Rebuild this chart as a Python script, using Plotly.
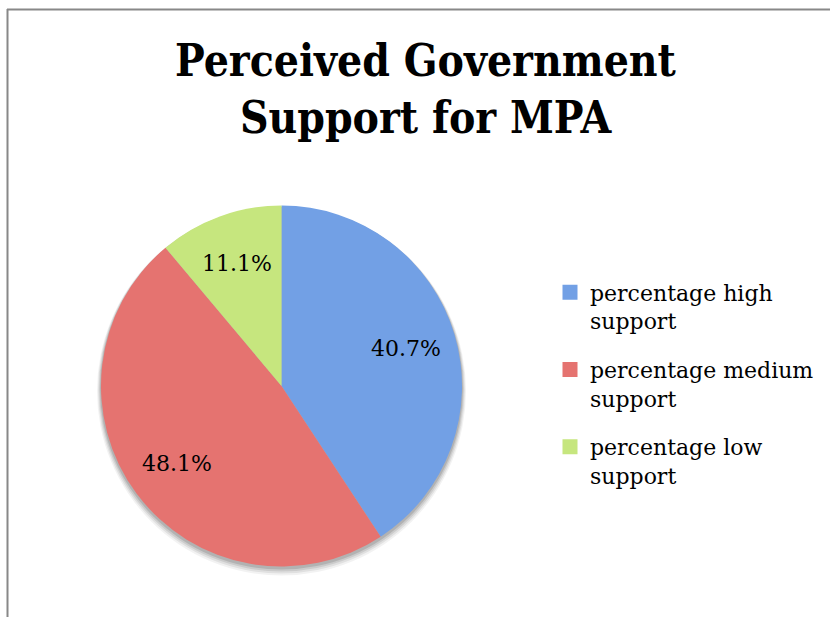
import math
import plotly.graph_objects as go

categories = ["percentage high<br>support", "percentage medium<br>support", "percentage low<br>support"]
counts = [11, 13, 3]
colors = ["#72A0E5", "#E57370", "#C6E67E"]
title_text = "Perceived Government<br>Support for MPA"

W, H = 830, 617
cx, cy, r = 281.5, 386, 180.5

fig = go.Figure()
fig.add_trace(go.Pie(
    labels=categories,
    values=counts,
    sort=False,
    direction="clockwise",
    rotation=0,
    marker=dict(colors=colors, line=dict(width=0)),
    textinfo="none",
    showlegend=False,
    domain=dict(x=[(cx - r) / W, (cx + r) / W], y=[1 - (cy + r) / H, 1 - (cy - r) / H]),
    hoverinfo="label+percent",
))

# legend entries (one group each so the gap between entries matches)
for i, (name, col) in enumerate(zip(categories, colors)):
    fig.add_trace(go.Scatter(
        x=[None], y=[None], mode="markers", name=name,
        marker=dict(symbol="square", size=15, color=col),
        legendgroup=f"g{i}", showlegend=True, hoverinfo="skip",
    ))

# percentage labels placed along each slice bisector
total = sum(counts)
annotations = []
cum = 0
for v in counts:
    mid = (cum + v / 2) / total * 2 * math.pi
    cum += v
    d = 0.72 * r
    x = cx + d * math.sin(mid)
    y = cy - d * math.cos(mid)
    annotations.append(dict(
        x=x / W, y=1 - y / H, xref="paper", yref="paper", showarrow=False,
        text=f"{v / total:.1%}", xanchor="center", yanchor="middle",
        font=dict(family="DejaVu Serif", size=22, color="black"),
    ))

shapes = []
# soft shadow under pie
for i, op in enumerate([0.05, 0.07, 0.09, 0.12]):
    rr = r + 4 - i
    off = 5 - i
    shapes.append(dict(type="circle", xref="paper", yref="paper",
                       x0=(cx - rr) / W, x1=(cx + rr) / W,
                       y0=1 - (cy + off + rr) / H, y1=1 - (cy + off - rr) / H,
                       fillcolor=f"rgba(0,0,0,{op})", line=dict(width=0), layer="below"))
# frame lines
shapes.append(dict(type="line", xref="paper", yref="paper", x0=7 / W, x1=1, y0=1 - 9.5 / H, y1=1 - 9.5 / H,
                   line=dict(color="#888888", width=2)))
shapes.append(dict(type="line", xref="paper", yref="paper", x0=7.5 / W, x1=7.5 / W, y0=0, y1=1 - 9 / H,
                   line=dict(color="#888888", width=2)))

fig.update_layout(
    width=W, height=H,
    margin=dict(l=0, r=0, t=0, b=0),
    paper_bgcolor="white",
    plot_bgcolor="white",
    xaxis=dict(visible=False),
    yaxis=dict(visible=False),
    title=dict(text=title_text, x=425.5 / W, xanchor="center", y=1 - 76 / H, yanchor="top",
               font=dict(family="DejaVu Serif Condensed, DejaVu Serif", size=44, color="black", weight="bold")),
    legend=dict(x=550 / W, y=1 - 271.5 / H, xanchor="left", yanchor="top",
                valign="top", tracegroupgap=17,
                font=dict(family="DejaVu Serif", size=22, color="black"),
                bgcolor="rgba(0,0,0,0)"),
    shapes=shapes,
    annotations=annotations,
)

fig.write_html("out.html", config={"displayModeBar": False},
               post_script="document.body.style.margin='0px';")
